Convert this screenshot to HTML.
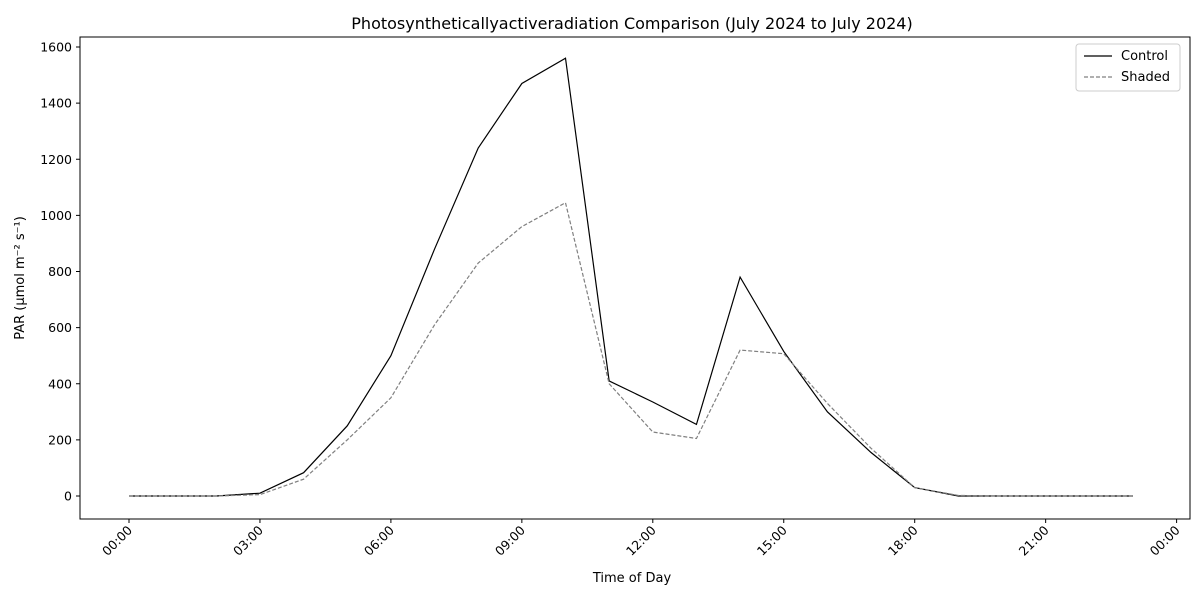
<!DOCTYPE html>
<html><head><meta charset="utf-8"><style>
body{margin:0;background:#fff;font-family:"Liberation Sans","DejaVu Sans",sans-serif;}
svg text{font-family:"DejaVu Sans","Liberation Sans",sans-serif;fill:#000;}
</style></head><body>
<svg id="chart" width="1200" height="600" xmlns="http://www.w3.org/2000/svg">
<rect width="1200" height="600" fill="#fff"/>
<text x="632" y="29" font-size="16" text-anchor="middle">Photosyntheticallyactiveradiation Comparison (July 2024 to July 2024)</text>
<g id="axes"></g>
<g id="series"></g>
<text x="632" y="582" font-size="13" text-anchor="middle">Time of Day</text>
<text transform="translate(24,278) rotate(-90)" font-size="13" text-anchor="middle">PAR (µmol m⁻² s⁻¹)</text>
<g>
<rect x="1076" y="44" width="104" height="47" fill="#fff" stroke="#ccc" rx="3"/>
<line x1="1084" y1="56" x2="1112" y2="56" stroke="#000" stroke-width="1.2"/>
<text x="1121" y="60" font-size="13">Control</text>
<line x1="1084" y1="77" x2="1112" y2="77" stroke="#808080" stroke-width="1.2" stroke-dasharray="4,2"/>
<text x="1121" y="81" font-size="13">Shaded</text>
</g>
</svg>
<script>
const hours = [0,1,2,3,4,5,6,7,8,9,10,11,12,13,14,15,16,17,18,19,20,21,22,23];
const controlValues = [0,0,0,10,83,250,500,880,1240,1470,1560,410,335,255,780,515,300,155,30,0,0,0,0,0];
const shadedValues = [0,0,0,5,60,200,350,610,830,960,1045,400,228,205,520,507,330,170,30,2,0,0,0,0];
const yTicks = [0,200,400,600,800,1000,1200,1400,1600];
const xTickHours = [0,3,6,9,12,15,18,21,24];
const xTickLabels = ["00:00","03:00","06:00","09:00","12:00","15:00","18:00","21:00","00:00"];

const L=80,R=1190,T=37,B=519;
const xs = h => 129 + h*43.65;
const ys = v => 496 - v*(449/1600);
const NS="http://www.w3.org/2000/svg";
const axes=document.getElementById('axes'), series=document.getElementById('series');
function mk(tag,attrs,parent){const e=document.createElementNS(NS,tag);for(const k in attrs)e.setAttribute(k,attrs[k]);parent.appendChild(e);return e;}

const frame=mk('rect',{x:L,y:T,width:R-L,height:B-T,fill:'none',stroke:'#000','stroke-width':1},axes);



yTicks.forEach(v=>{
  const y=ys(v);
  mk('line',{x1:L-4,x2:L,y1:y,y2:y,stroke:'#000'},axes);
  const t=mk('text',{x:L-8,y:y+4.5,'font-size':12.5,'text-anchor':'end'},axes);
  t.textContent=v;
  
  
});
xTickHours.forEach((h,i)=>{
  const x=xs(h);
  mk('line',{x1:x,x2:x,y1:B,y2:B+4,stroke:'#000'},axes);
  const t=mk('text',{x:x+4,y:B+12,'font-size':12.5,'text-anchor':'end',transform:`rotate(-45 ${x+4} ${B+12})`},axes);
  t.textContent=xTickLabels[i];
  
  
});

function line(vals,color,dash,name){
  const d=vals.map((v,i)=>(i?'L':'M')+xs(hours[i])+','+ys(v)).join(' ');
  const p=mk('path',{d:d,fill:'none',stroke:color,'stroke-width':1.2},series);
  if(dash)p.setAttribute('stroke-dasharray',dash);
  
  
}
line(controlValues,'#000',null,'control-line');
line(shadedValues,'#808080','4,2','shaded-line');
</script>
</body></html>
